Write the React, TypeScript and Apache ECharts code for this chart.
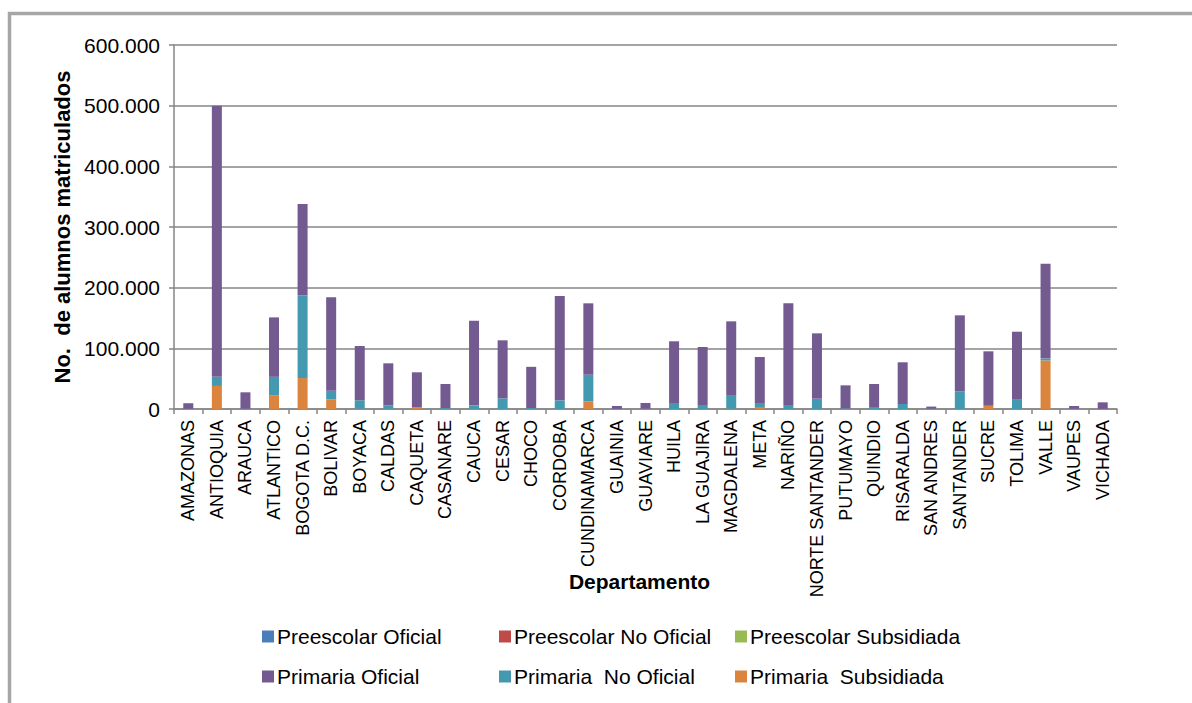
import React, { useEffect, useRef } from "react";
import * as echarts from "echarts";

const categories = [
  "AMAZONAS", "ANTIOQUIA", "ARAUCA", "ATLANTICO", "BOGOTA D.C.", "BOLIVAR", "BOYACA", "CALDAS",
  "CAQUETA", "CASANARE", "CAUCA", "CESAR", "CHOCO", "CORDOBA", "CUNDINAMARCA", "GUAINIA",
  "GUAVIARE", "HUILA", "LA GUAJIRA", "MAGDALENA", "META", "NARIÑO", "NORTE SANTANDER", "PUTUMAYO",
  "QUINDIO", "RISARALDA", "SAN ANDRES", "SANTANDER", "SUCRE", "TOLIMA", "VALLE", "VAUPES", "VICHADA",
];

const preescolarOficial = [
  0, 0, 0, 0, 0, 0, 0, 0, 0, 0, 0, 0, 0, 0, 0, 0, 0, 0, 0, 0, 0, 0, 0, 0, 0, 0, 0, 0, 0, 0, 0, 0, 0,
];
const preescolarNoOficial = [
  0, 0, 0, 0, 0, 0, 0, 0, 0, 0, 0, 0, 0, 0, 0, 0, 0, 0, 0, 0, 0, 0, 0, 0, 0, 0, 0, 0, 0, 0, 0, 0, 0,
];
const preescolarSubsidiada = [
  0, 0, 0, 0, 0, 0, 0, 0, 0, 0, 0, 0, 0, 0, 0, 0, 0, 0, 0, 0, 0, 0, 0, 0, 0, 0, 0, 0, 0, 0, 0, 0, 0,
];
const primariaOficial = [
  9200, 447000, 27000, 98000, 151000, 154000, 89500, 69300, 58000, 39700, 139500, 95600, 68000,
  172000, 117700, 4800, 9500, 101700, 95600, 121500, 75800, 167600, 107700, 38000, 37900, 68800,
  3500, 125300, 88500, 112100, 156000, 4700, 10800,
];
const primariaNoOficial = [
  300, 15000, 500, 31000, 136000, 14000, 13800, 5700, 500, 1500, 6000, 17600, 1500, 14300, 43800,
  200, 400, 9900, 6600, 22500, 6600, 6600, 17000, 1000, 3300, 8200, 500, 29100, 1600, 15300, 3300,
  200, 200,
];
const primariaSubsidiada = [
  0, 38000, 0, 22000, 51000, 16000, 500, 300, 2000, 0, 0, 0, 0, 0, 12700, 0, 0, 0, 0, 500, 3300, 0,
  0, 0, 0, 0, 0, 0, 5000, 0, 80200, 0, 0,
];

const yTicks = [0, 100000, 200000, 300000, 400000, 500000, 600000];

const seriesNames = [
  "Preescolar Oficial",
  "Preescolar No Oficial",
  "Preescolar Subsidiada",
  "Primaria Oficial",
  "Primaria  No Oficial",
  "Primaria  Subsidiada",
];
const colors: Record<string, string> = {
  "Preescolar Oficial": "#4a7ebb",
  "Preescolar No Oficial": "#be4b48",
  "Preescolar Subsidiada": "#98b954",
  "Primaria Oficial": "#735a90",
  "Primaria  No Oficial": "#4399b0",
  "Primaria  Subsidiada": "#db843d",
};

const FONT = "'Liberation Sans', Arial, sans-serif";

function fmt(v: number): string {
  return String(Math.round(v)).replace(/\B(?=(\d{3})+(?!\d))/g, ".");
}

export default function App() {
  const ref = useRef<HTMLDivElement>(null);

  useEffect(() => {
    document.body.style.margin = "0";
    const chart = echarts.init(ref.current!, null, { renderer: "svg" });

    const stackOrder: [string, number[]][] = [
      ["Preescolar Oficial", preescolarOficial],
      ["Preescolar No Oficial", preescolarNoOficial],
      ["Preescolar Subsidiada", preescolarSubsidiada],
      ["Primaria  Subsidiada", primariaSubsidiada],
      ["Primaria  No Oficial", primariaNoOficial],
      ["Primaria Oficial", primariaOficial],
    ];

    const legendPos = [
      { left: 262, top: 626 },
      { left: 499, top: 626 },
      { left: 735, top: 626 },
      { left: 262, top: 666 },
      { left: 499, top: 666 },
      { left: 735, top: 666 },
    ];

    chart.setOption({
      animation: false,
      backgroundColor: "#ffffff",
      textStyle: { fontFamily: FONT },
      graphic: [
        {
          type: "rect",
          shape: { x: 9.5, y: 13.5, width: 1300, height: 800 },
          style: { fill: "none", stroke: "#a6a6a6", lineWidth: 3.5 },
          silent: true,
        },
      ],
      legend: seriesNames.map((n, i) => ({
        data: [n],
        left: legendPos[i].left,
        top: legendPos[i].top,
        padding: 0,
        icon: "rect",
        itemWidth: 12,
        itemHeight: 12,
        selectedMode: false,
        textStyle: { fontSize: 21, color: "#000", fontFamily: FONT, padding: [0, 0, 0, -2] },
      })),
      grid: { left: 174, right: 75, top: 45, bottom: 294, containLabel: false },
      xAxis: {
        type: "category",
        data: categories,
        name: "Departamento",
        nameLocation: "middle",
        nameGap: 162,
        nameMoveOverlap: false,
        nameTextStyle: {
          fontSize: 21,
          fontWeight: "bold",
          color: "#000",
          verticalAlign: "top",
          padding: [0, 12, 0, 0],
        },
        axisLine: { lineStyle: { color: "#868686", width: 1.5 } },
        axisTick: { show: true, alignWithLabel: false, length: 5, lineStyle: { color: "#868686", width: 1.5 } },
        axisLabel: { rotate: 90, fontSize: 18, color: "#000", margin: 11, interval: 0 },
        splitLine: { show: false },
      },
      yAxis: {
        type: "value",
        min: yTicks[0],
        max: yTicks[yTicks.length - 1],
        interval: 100000,
        name: "No.  de alumnos matriculados",
        nameLocation: "middle",
        nameGap: 101,
        nameMoveOverlap: false,
        nameTextStyle: { fontSize: 22, fontWeight: "bold", color: "#000" },
        axisLine: { show: true, lineStyle: { color: "#868686", width: 1.5 } },
        axisTick: { show: true, length: 5, lineStyle: { color: "#868686", width: 1.5 } },
        axisLabel: { fontSize: 21, color: "#000", margin: 14, formatter: (v: number) => fmt(v) },
        splitLine: { show: true, lineStyle: { color: "#868686", width: 1.5 } },
      },
      series: stackOrder.map(([name, data]) => ({
        name,
        type: "bar",
        stack: "total",
        data,
        barWidth: 10,
        itemStyle: { color: colors[name] },
      })),
    });

    return () => chart.dispose();
  }, []);

  return (
    <div
      ref={ref}
      style={{ position: "fixed", left: 0, top: 0, width: 1192, height: 703 }}
    />
  );
}
